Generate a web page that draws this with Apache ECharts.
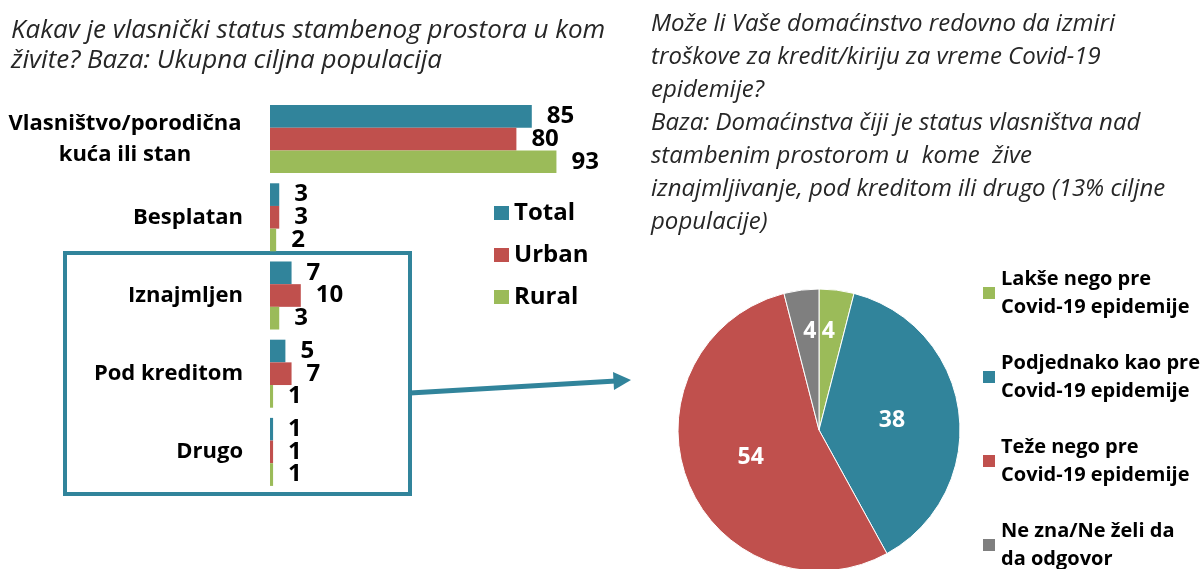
<!DOCTYPE html>
<html lang="sr">
<head>
    <meta charset="UTF-8">
    <title>Vlasnički status stambenog prostora</title>
    <script src="https://cdn.jsdelivr.net/npm/echarts@6/dist/echarts.min.js"></script>
    <style>
        html, body { margin: 0; padding: 0; background: #fff; }
        #main { width: 1203px; height: 569px; }
    </style>
</head>
<body>
    <div id="main"></div>
    <script type="text/javascript">
        // bar chart data
        var categories = ['Vlasništvo/porodična\nkuća ili stan', 'Besplatan', 'Iznajmljen', 'Pod kreditom', 'Drugo'];
        var totalValues = [85, 3, 7, 5, 1];
        var urbanValues = [80, 3, 10, 7, 1];
        var ruralValues = [93, 2, 3, 1, 1];

        // pie data
        var pieNames = [
            'Lakše nego pre\nCovid-19 epidemije',
            'Podjednako kao pre\nCovid-19 epidemije',
            'Teže nego pre\nCovid-19 epidemije',
            'Ne zna/Ne želi da\nda odgovor'
        ];
        var pieValues = [4, 38, 54, 4];

        var teal = '#31849b', red = '#c0504d', green = '#9bbb59', grey = '#7f7f7f';
        var font = 'Open Sans';

        var leftTitle = 'Kakav je vlasnički status stambenog prostora u kom\nživite? Baza: Ukupna ciljna populacija';
        var rightTitle = 'Može li Vaše domaćinstvo redovno da izmiri\ntroškove za kredit/kiriju za vreme Covid-19\nepidemije?\n' +
            'Baza: Domaćinstva čiji je status vlasništva nad\nstambenim prostorom u  kome  žive\n' +
            'iznajmljivanje, pod kreditom ili drugo (13% ciljne\npopulacije)';

        function barSeries(name, data, color) {
            return {
                name: name,
                type: 'bar',
                data: data,
                barGap: '0%',
                barCategoryGap: '13%',
                itemStyle: { color: color },
                label: {
                    show: true,
                    position: 'right',
                    distance: 15,
                    color: '#000',
                    fontWeight: 'bold',
                    fontSize: 24,
                    fontFamily: font
                }
            };
        }

        var option = {
            animation: false,
            textStyle: { fontFamily: font },
            title: [
                {
                    text: leftTitle,
                    left: 6, top: 11,
                    textStyle: { fontStyle: 'italic', fontWeight: 'normal', fontSize: 26, lineHeight: 30, color: '#262626', fontFamily: font }
                },
                {
                    text: rightTitle,
                    left: 646, top: 3,
                    textStyle: { fontStyle: 'italic', fontWeight: 'normal', fontSize: 24, lineHeight: 33, color: '#262626', fontFamily: font }
                }
            ],
            legend: [
                {
                    data: ['Total', 'Urban', 'Rural'],
                    orient: 'vertical',
                    left: 489, top: 194,
                    itemWidth: 15, itemHeight: 14, itemGap: 14,
                    icon: 'rect',
                    textStyle: { fontSize: 24, fontWeight: 'bold', color: '#000', lineHeight: 28, fontFamily: font }
                },
                {
                    data: pieNames,
                    orient: 'vertical',
                    left: 976, top: 246, height: 360,
                    itemWidth: 14, itemHeight: 14, itemGap: 0,
                    icon: 'rect',
                    textStyle: { fontSize: 20, fontWeight: 'bold', color: '#000', lineHeight: 28, padding: [28, 0, 0, 0], fontFamily: font }
                }
            ],
            grid: { left: 270, top: 100, width: 308, height: 391, containLabel: false },
            xAxis: { type: 'value', min: 0, max: 100, show: false },
            yAxis: {
                type: 'category',
                data: categories,
                inverse: true,
                axisLine: { show: false },
                axisTick: { show: false },
                axisLabel: {
                    margin: 27,
                    color: '#000',
                    fontWeight: 'bold',
                    fontSize: 22,
                    fontFamily: font,
                    formatter: function (v) {
                        if (v.indexOf('\n') < 0) return v;
                        return v.split('\n').map(function (s) { return '{c|' + s + '}'; }).join('\n');
                    },
                    rich: {
                        c: { width: 236, align: 'center', fontWeight: 'bold', fontSize: 22, lineHeight: 31, color: '#000', fontFamily: font }
                    }
                }
            },
            series: [
                barSeries('Total', totalValues, teal),
                barSeries('Urban', urbanValues, red),
                barSeries('Rural', ruralValues, green),
                {
                    type: 'pie',
                    center: [819, 430],
                    radius: 141,
                    startAngle: 90,
                    clockwise: true,
                    itemStyle: { borderColor: '#fff', borderWidth: 1 },
                    label: {
                        show: true,
                        position: 'inside',
                        formatter: '{c}',
                        color: '#fff',
                        fontWeight: 'bold',
                        fontSize: 23,
                        fontFamily: font
                    },
                    labelLine: { show: false },
                    data: [
                        { name: pieNames[0], value: pieValues[0], itemStyle: { color: green }, label: { offset: [0, -26] } },
                        { name: pieNames[1], value: pieValues[1], itemStyle: { color: teal } },
                        { name: pieNames[2], value: pieValues[2], itemStyle: { color: red } },
                        { name: pieNames[3], value: pieValues[3], itemStyle: { color: grey }, label: { offset: [0, -26] } }
                    ]
                }
            ],
            graphic: [
                {
                    type: 'rect',
                    shape: { x: 65, y: 253, width: 345, height: 241 },
                    style: { fill: 'none', stroke: teal, lineWidth: 4 },
                    z: 1
                },
                {
                    type: 'line',
                    shape: { x1: 410, y1: 393, x2: 616, y2: 381 },
                    style: { stroke: teal, lineWidth: 5 }
                },
                {
                    type: 'polygon',
                    shape: { points: [[613, 372], [631, 380], [614, 390]] },
                    style: { fill: teal }
                }
            ]
        };

        var chart = echarts.init(document.getElementById('main'));
        chart.setOption(option);
    </script>
</body>
</html>
